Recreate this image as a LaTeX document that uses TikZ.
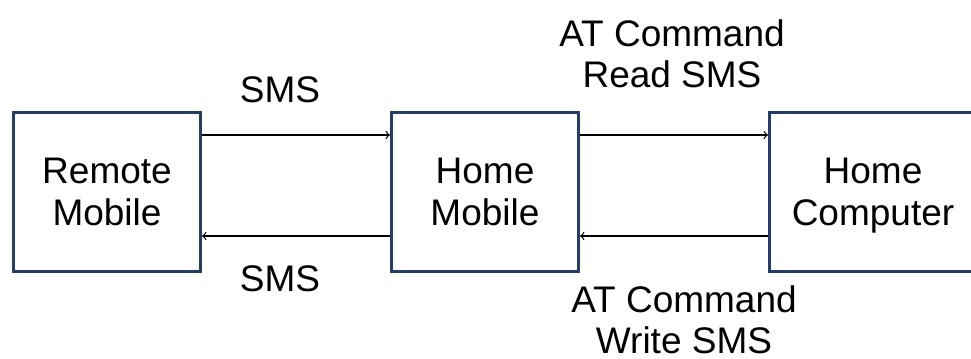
\documentclass[tikz,border=0pt]{standalone}
\usepackage{fontspec}
\setmainfont{Liberation Sans}
\usetikzlibrary{matrix,arrows}
\definecolor{boxblue}{RGB}{36,62,104}

\begin{document}
\begin{tikzpicture}[
	box/.style={draw=boxblue, line width=1.5pt, minimum width=93.5pt, minimum height=79.5pt, text depth=0pt, align=center, font=\fontsize{18.5}{21}\selectfont},
	lbl/.style={inner sep=0pt, align=center, font=\fontsize{18.5}{20.5}\selectfont}]
	\clip (0,0) rectangle (485.5pt,-179.5pt);
	\matrix (b) [column sep=94pt, inner sep=0pt] at (247.5pt,-96pt)
	{
	\node[box] (remote) {Remote\\Mobile}; & \node[box] (homemob) {Home\\Mobile}; & \node[box, minimum width=103.5pt] (homepc) {Home\\Computer}; \\
	};
	\path[->, >=to, line width=0.6pt]
	([yshift=28.5pt]remote.east) edge node[lbl, above=16pt, xshift=-8pt]{SMS} ([yshift=28.5pt]homemob.west)
	([yshift=-22pt]homemob.west) edge node[lbl, below=14.5pt, xshift=-8pt]{SMS} ([yshift=-22pt]remote.east)
	([yshift=28.5pt]homemob.east) edge node[lbl, above=23.5pt, xshift=-1pt]{AT Command\\Read SMS} ([yshift=28.5pt]homepc.west)
	([yshift=-22pt]homepc.west) edge node[lbl, below=24.5pt, xshift=5pt]{AT Command\\Write SMS} ([yshift=-22pt]homemob.east);
\end{tikzpicture}
\end{document}
